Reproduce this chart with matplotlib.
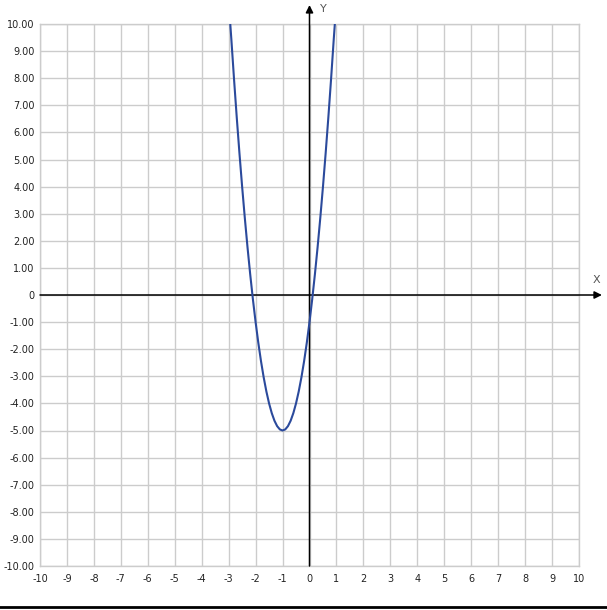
import matplotlib
matplotlib.use("Agg")
import matplotlib.pyplot as plt
from matplotlib.lines import Line2D

x_vals = [-2.94, -2.9, -2.8, -2.7, -2.6, -2.5, -2.4, -2.3, -2.2, -2.1, -2.0,
          -1.9, -1.8, -1.7, -1.6, -1.5, -1.4, -1.3, -1.2, -1.1, -1.0,
          -0.9, -0.8, -0.7, -0.6, -0.5, -0.4, -0.3, -0.2, -0.1, 0.0,
          0.1, 0.2, 0.3, 0.4, 0.5, 0.6, 0.7, 0.8, 0.9, 0.94]
y_vals = [10.0, 9.44, 7.96, 6.56, 5.24, 4.00, 2.84, 1.76, 0.76, -0.16, -1.00,
          -1.76, -2.44, -3.04, -3.56, -4.00, -4.36, -4.64, -4.84, -4.96, -5.00,
          -4.96, -4.84, -4.64, -4.36, -4.00, -3.56, -3.04, -2.44, -1.76, -1.00,
          -0.16, 0.76, 1.76, 2.84, 4.00, 5.24, 6.56, 7.96, 9.44, 10.0]

x_ticks = list(range(-10, 11))
y_ticks = list(range(-10, 11))
x_ticklabels = [str(v) for v in x_ticks]
y_ticklabels = ["0" if v == 0 else f"{v:.2f}" for v in y_ticks]

W, H = 607, 610
fig = plt.figure(figsize=(W / 100, H / 100), dpi=100)
ax = fig.add_axes([40 / W, (H - 566) / H, (579 - 40) / W, (566 - 24) / H])

grid_c = "#cccccc"
ax.set_xlim(-10, 10)
ax.set_ylim(-10, 10)
ax.set_xticks(x_ticks)
ax.set_yticks(y_ticks)
ax.set_xticklabels(x_ticklabels)
ax.set_yticklabels(y_ticklabels)
ax.tick_params(length=0, labelsize=7, labelcolor="#222222")
ax.tick_params(axis="x", pad=6)
ax.tick_params(axis="y", pad=4)
ax.grid(True, color=grid_c, linewidth=1)
for s in ax.spines.values():
    s.set_color(grid_c)
    s.set_linewidth(1)

ax.plot(x_vals, y_vals, color="#2b4a9c", linewidth=1.5, zorder=4)

# coordinate axes with arrows
ax.annotate("", xy=(10.85, 0), xytext=(-10, 0), annotation_clip=False,
            arrowprops=dict(arrowstyle="-|>", color="black", lw=1.1,
                            mutation_scale=11, shrinkA=0, shrinkB=0))
ax.annotate("", xy=(0, 10.7), xytext=(0, -10), annotation_clip=False,
            arrowprops=dict(arrowstyle="-|>", color="black", lw=1.1,
                            mutation_scale=11, shrinkA=0, shrinkB=0))
ax.text(10.65, 0.55, "X", fontsize=8, color="#555555", ha="center", va="center",
        clip_on=False)
ax.text(0.5, 10.55, "Y", fontsize=8, color="#555555", ha="center", va="center",
        clip_on=False)

fig.add_artist(Line2D([0, 1], [3 / H, 3 / H], color="black", linewidth=2,
                      transform=fig.transFigure))

fig.savefig("out.png", dpi=100)
